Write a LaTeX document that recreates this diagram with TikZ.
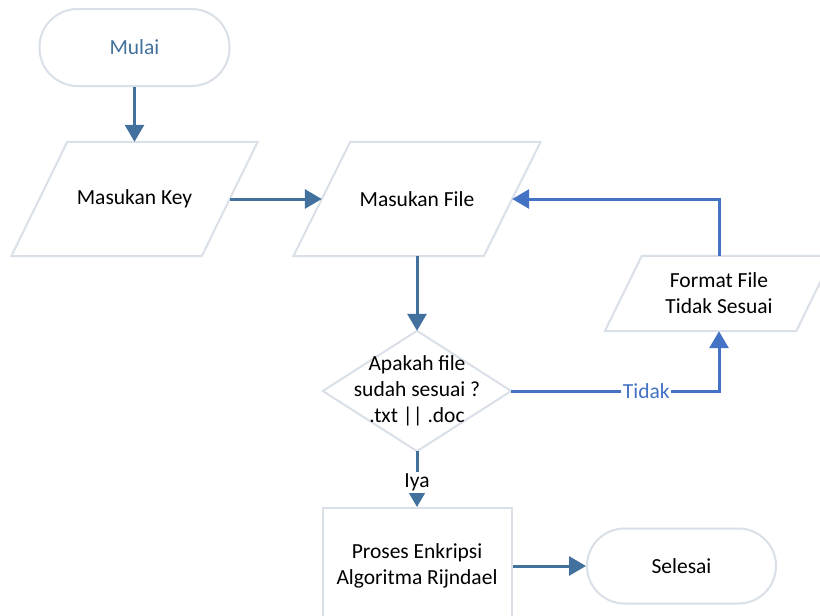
\documentclass[tikz,border=0pt]{standalone}
\usepackage{fontspec}
\setmainfont{Carlito}
\usetikzlibrary{arrows.meta,backgrounds}
\definecolor{arr}{HTML}{41719C}
\definecolor{arrb}{HTML}{4472C4}
\definecolor{bord}{HTML}{DAE0E8}
\begin{document}
\begin{tikzpicture}[x=1pt,y=-1pt, font=\fontsize{21.5}{26}\selectfont,
  box/.style={rectangle, inner sep=0pt, align=center},
  bline/.style={draw=bord, line width=2pt},
  conn/.style={draw=arr, line width=3pt, -{Triangle[length=17pt,width=19pt]}},
  connb/.style={draw=arrb, line width=3pt, -{Triangle[length=17pt,width=19pt]}},
  lbl/.style={fill=white, inner sep=1.5pt}
]
\useasboundingbox (0,0) rectangle (820,616);

\node[box, bline, rounded corners=38pt, minimum width=190pt, minimum height=77pt, text=arr] (start) at (134.5,47.5) {Mulai};
\node[box, minimum width=190pt, minimum height=114pt] (key) at (134.5,199) {Masukan Key};
\node[box, minimum width=190pt, minimum height=114pt] (file) at (417,199) {Masukan File};
\node[box, minimum width=188pt, minimum height=120pt] (dec) at (417,391) {Apakah file\\sudah sesuai ?\\.txt || .doc};
\node[box, minimum width=191pt, minimum height=75pt] (fmt) at (719,293.5) {Format File\\Tidak Sesuai};
\node[box, bline, minimum width=189pt, minimum height=116pt] (proc) at (417,566) {Proses Enkripsi\\Algoritma Rijndael};
\node[box, bline, rounded corners=37.5pt, minimum width=189pt, minimum height=75pt] (end) at (681.5,566) {Selesai};

\begin{pgfonlayer}{background}
\fill[white] (0,0) rectangle (820,616);
\draw[bline] ([xshift=28pt]key.north west) -- ([xshift=28pt]key.north east) -- ([xshift=-28pt]key.south east) -- ([xshift=-28pt]key.south west) -- cycle;
\draw[bline] ([xshift=28.5pt]file.north west) -- ([xshift=28.5pt]file.north east) -- ([xshift=-28.5pt]file.south east) -- ([xshift=-28.5pt]file.south west) -- cycle;
\draw[bline] ([xshift=18.5pt]fmt.north west) -- ([xshift=18.5pt]fmt.north east) -- ([xshift=-18.5pt]fmt.south east) -- ([xshift=-18.5pt]fmt.south west) -- cycle;
\draw[bline] (dec.north) -- (dec.east) -- (dec.south) -- (dec.west) -- cycle;
\end{pgfonlayer}

\draw[conn] (start.south) -- (key.north);
\draw[conn] (key.east) -- (file.west);
\draw[conn] (file.south) -- (dec.north);
\draw[conn] (dec.south) -- node[lbl, pos=0.56] (iya) {Iya} (proc.north);
\draw[conn] (proc.east) -- (end.west);
\draw[connb] (dec.east) -| node[lbl, pos=0.325, text=arrb] (tidak) {Tidak} (fmt.south);
\draw[connb] (fmt.north) |- (file.east);
\end{tikzpicture}
\end{document}
